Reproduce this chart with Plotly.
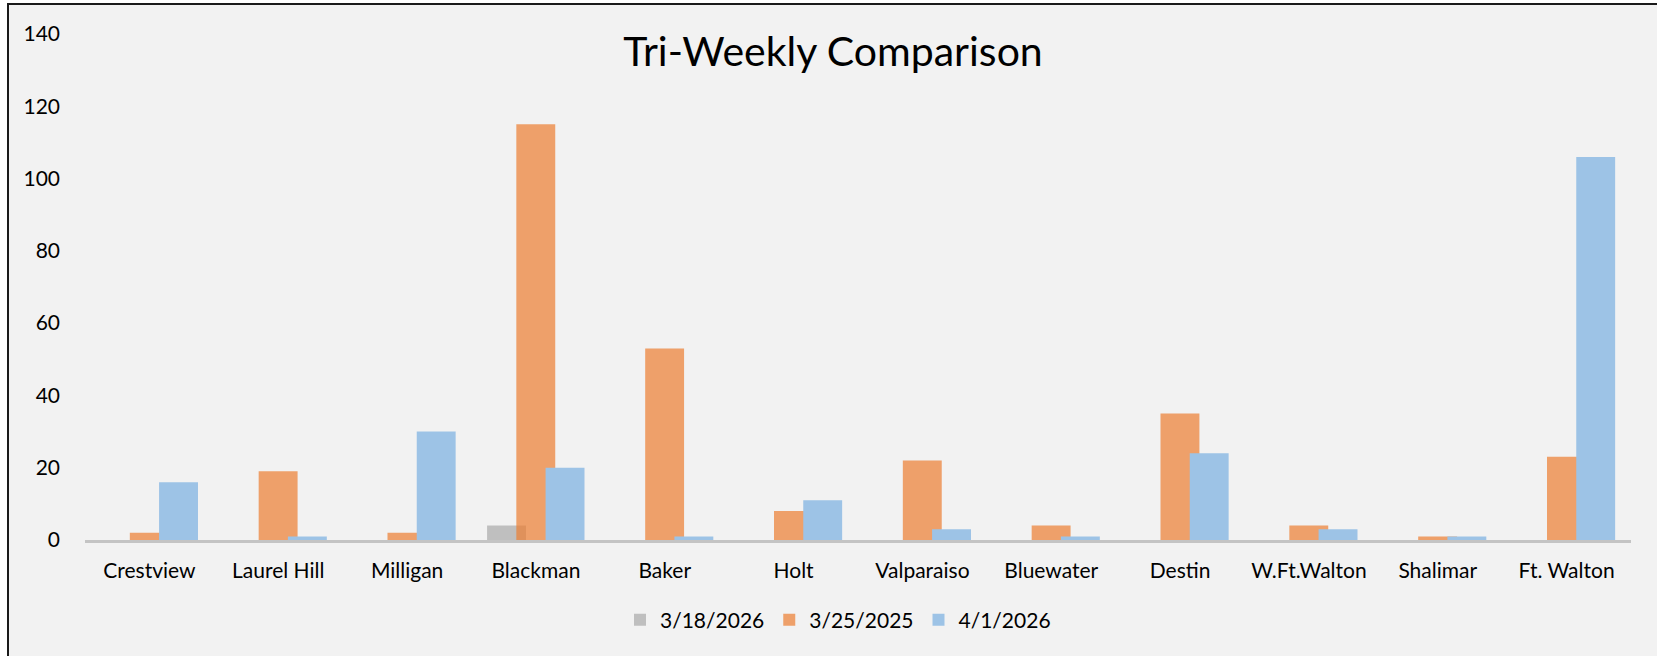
import plotly.graph_objects as go

categories = ["Crestview", "Laurel Hill", "Milligan", "Blackman", "Baker", "Holt",
              "Valparaiso", "Bluewater", "Destin", "W.Ft.Walton", "Shalimar", "Ft. Walton"]
series_names = ["3/18/2026", "3/25/2025", "4/1/2026"]
vals_0318 = [0, 0, 0, 4, 0, 0, 0, 0, 0, 0, 0, 0]
vals_0325 = [2, 19, 2, 115, 53, 8, 22, 4, 35, 4, 1, 23]
vals_0401 = [16, 1, 30, 20, 1, 11, 3, 1, 24, 3, 1, 106]
y_ticks = [0, 20, 40, 60, 80, 100, 120, 140]

colors = ["#BFBFBF", "rgba(237,125,49,0.70)", "#9DC3E6"]
bar_w = 0.302
step = 0.227
offsets = [-0.379, -0.379 + step, -0.379 + 2 * step]

FONT = "Lato"
fig = go.Figure()
for name, vals, col, off in zip(series_names, [vals_0318, vals_0325, vals_0401], colors, offsets):
    fig.add_trace(go.Bar(
        x=categories, y=vals, name=name, width=bar_w, offset=off,
        marker=dict(color=col, line=dict(width=0)),
    ))

W, H = 1657, 656
L, R, T, B = 85, 26, 34, 116
pw, ph = W - L - R, H - T - B

def px_x(p):
    return (p - L) / pw

def px_y(p):
    return (H - B - p) / ph

fig.update_layout(
    width=W, height=H,
    barmode="overlay",
    paper_bgcolor="white",
    plot_bgcolor="rgba(0,0,0,0)",
    margin=dict(l=L, r=R, t=T, b=B, autoexpand=False),
    title=dict(text="Tri-Weekly Comparison", x=833 / W, xref="container", xanchor="center",
               y=1 - 52 / H, yref="container", yanchor="middle",
               font=dict(family=FONT, size=41, color="#000000")),
    font=dict(family=FONT, color="#000000"),
    showlegend=True,
    legend=dict(orientation="h", x=838 / W, xref="container", xanchor="center",
                y=1 - 620 / H, yref="container", yanchor="middle",
                font=dict(family=FONT, size=21, color="#000000"),
                bgcolor="rgba(0,0,0,0)", itemwidth=30, traceorder="normal"),
    xaxis=dict(showgrid=False, zeroline=False, showline=True, linecolor="#C4C4C4",
               linewidth=2.5, ticks="", tickfont=dict(family=FONT, size=21, color="#000000"),
               automargin=False, fixedrange=True, range=[-0.5, 11.5],
               ticklabelstandoff=10),
    yaxis=dict(range=[0, 140], tickvals=y_ticks, showgrid=False, zeroline=False,
               showline=False, ticks="", tickfont=dict(family=FONT, size=21, color="#000000"),
               automargin=False, ticklabelstandoff=24, fixedrange=True),
    shapes=[dict(type="rect", xref="paper", yref="paper",
                 x0=px_x(8), x1=px_x(2000), y0=px_y(1000), y1=px_y(4),
                 fillcolor="#F2F2F2", line=dict(color="#1a1a1a", width=2), layer="below")],
)

fig.write_html("out.html", config={"displayModeBar": False},
               post_script="document.body.style.margin='0';document.body.style.overflow='hidden';")
